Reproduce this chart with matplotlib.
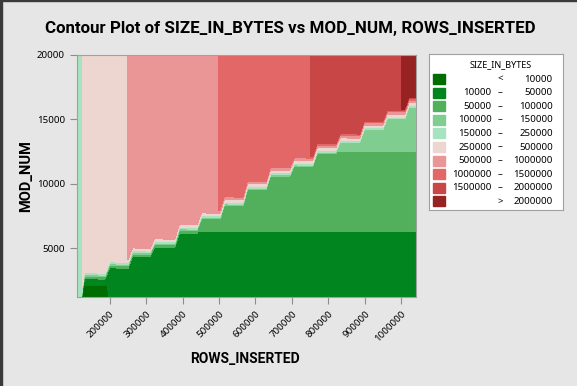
import numpy as np
import matplotlib
matplotlib.use("Agg")
import matplotlib.pyplot as plt
from matplotlib.patches import Rectangle

plt.rcParams['font.family'] = ['Noto Sans', 'DejaVu Sans']
bold_family = ['Roboto', 'DejaVu Sans']

# --- data ---
# contour levels of SIZE_IN_BYTES and their colours
levels = [0, 10000, 50000, 100000, 150000, 250000, 500000,
          1000000, 1500000, 2000000, 3000000]
colors = ['#006d00', '#00851f', '#52b05c', '#80ce8f', '#a8e3c0',
          '#edd6d0', '#ea9696', '#e46767', '#c84646', '#962222']
legend_lo = ['', '10000', '50000', '100000', '150000', '250000',
             '500000', '1000000', '1500000', '']
legend_hi = ['10000', '50000', '100000', '150000', '250000', '500000',
             '1000000', '1500000', '2000000', '2000000']
legend_sym = ['<', '–', '–', '–', '–', '–', '–', '–', '–', '>']

x_ticks = [200000, 300000, 400000, 500000, 600000, 700000, 800000, 900000, 1000000]
y_ticks = [5000, 10000, 15000, 20000]

# ROWS_INSERTED range and MOD_NUM range of the plot
rows_range = [110000, 1040000]
mod_range = [1200, 20000]

# upper region (above the staircase): size grows with ROWS_INSERTED
high_rows = [110000, 125000, 250000, 500000, 750000, 1000000, 1040000]
high_size = [220000, 250000, 500000, 1000000, 1500000, 2000000, 2080000]

# lower region (below the staircase): size grows with MOD_NUM
low_mod = [1200, 6300, 12500, 20000]
low_size = [10400, 50000, 100000, 160000]

# staircase: ROWS_INSERTED where each step starts and its MOD_NUM height
step_rows = [125000, 194000, 257000, 317000, 385000, 446000, 509000, 572000,
             635000, 700000, 763000, 826000, 892000, 955000, 1015000]
step_mod = [2770, 3700, 4640, 5410, 6580, 7510, 8590, 9840,
            10920, 11700, 12710, 13490, 14500, 15350, 16280]

# small pocket of very small files at the bottom left
pocket_rows = [120000, 196000]
pocket_mod = 2100
pocket_size = 6000

# --- build the field for contourf ---
xg = np.linspace(rows_range[0], rows_range[1], 700)
yg = np.linspace(mod_range[0], mod_range[1], 600)
X, Y = np.meshgrid(xg, yg)

ramp = 6000
kx = [rows_range[0]]
ky = [0.0]
prev = 0.0
for r, s in zip(step_rows, step_mod):
    kx += [r - ramp, r + ramp]
    ky += [prev, s]
    prev = s
kx.append(rows_range[1])
ky.append(prev)
bound = np.interp(X, kx, ky)

high = np.interp(X, high_rows, high_size)
low = np.interp(Y, low_mod, low_size)
pocket = (X >= pocket_rows[0]) & (X <= pocket_rows[1]) & (Y <= pocket_mod)
low = np.where(pocket, pocket_size, low)

# blend across the staircase (log scale, so each band shows as a thin strip)
width = 800.0
t = np.clip((Y - (bound - width / 2)) / width, 0, 1)
Z = np.exp(np.log(low) + (np.log(high) - np.log(low)) * t)

# --- figure ---
bg = '#e6e6e6'
fig = plt.figure(figsize=(5.77, 3.86), dpi=100, facecolor=bg)
ax = fig.add_axes([76.7 / 577, 1 - 297.3 / 386, (416 - 76.7) / 577, (297.3 - 54.5) / 386])
ax.contourf(X, Y, Z, levels=levels, colors=colors)
ax.set_xlim(rows_range)
ax.set_ylim(mod_range)

ax.set_xticks(x_ticks)
ax.set_xticklabels([str(v) for v in x_ticks], rotation=45, ha='right', rotation_mode='anchor')
ax.set_yticks(y_ticks)
ax.set_yticklabels([str(v) for v in y_ticks])
ax.tick_params(axis='both', direction='out', length=5, color='#8c8c8c', labelsize=7)
for sp in ax.spines.values():
    sp.set_color('#a0a0a0')

fig.text(290.5 / 577, 1 - 28.5 / 386, 'Contour Plot of SIZE_IN_BYTES vs MOD_NUM, ROWS_INSERTED',
         ha='center', va='center', fontsize=12.2, fontweight='bold', family=bold_family)
fig.text(245 / 577, 1 - 359 / 386, 'ROWS_INSERTED', ha='center', va='center',
         fontsize=10, fontweight='bold', family=bold_family)
fig.text(26 / 577, 1 - 176.5 / 386, 'MOD_NUM', ha='center', va='center',
         fontsize=10.5, fontweight='bold', rotation=90, family=bold_family)

# legend box, drawn in pixel units inside its own axes
lw, lh = 563.3 - 429.3, 210 - 54.3
lax = fig.add_axes([429.3 / 577, 1 - 210 / 386, lw / 577, lh / 386])
lax.set_xlim(0, lw)
lax.set_ylim(lh, 0)
lax.set_xticks([])
lax.set_yticks([])
lax.set_facecolor('white')
for sp in lax.spines.values():
    sp.set_color('#a0a0a0')
lax.text(71.7, 10.7, 'SIZE_IN_BYTES', ha='center', va='center', fontsize=6.5)
for i in range(len(colors)):
    yc = 24.7 + 13.6 * i
    lax.add_patch(Rectangle((3.7, yc - 5), 12, 10, color=colors[i]))
    lax.text(62.4, yc, legend_lo[i], ha='right', va='center', fontsize=7)
    lax.text(70.7, yc, legend_sym[i], ha='center', va='center', fontsize=7)
    lax.text(123.4, yc, legend_hi[i], ha='right', va='center', fontsize=7)

# window frame edges
fig.add_artist(Rectangle((0, 0), 2 / 577, 1, transform=fig.transFigure, color='#3a3a3a'))
fig.add_artist(Rectangle((0, 1 - 1 / 386), 1, 1 / 386, transform=fig.transFigure, color='#3a3a3a'))

fig.savefig('out.png', dpi=100, facecolor=bg)
